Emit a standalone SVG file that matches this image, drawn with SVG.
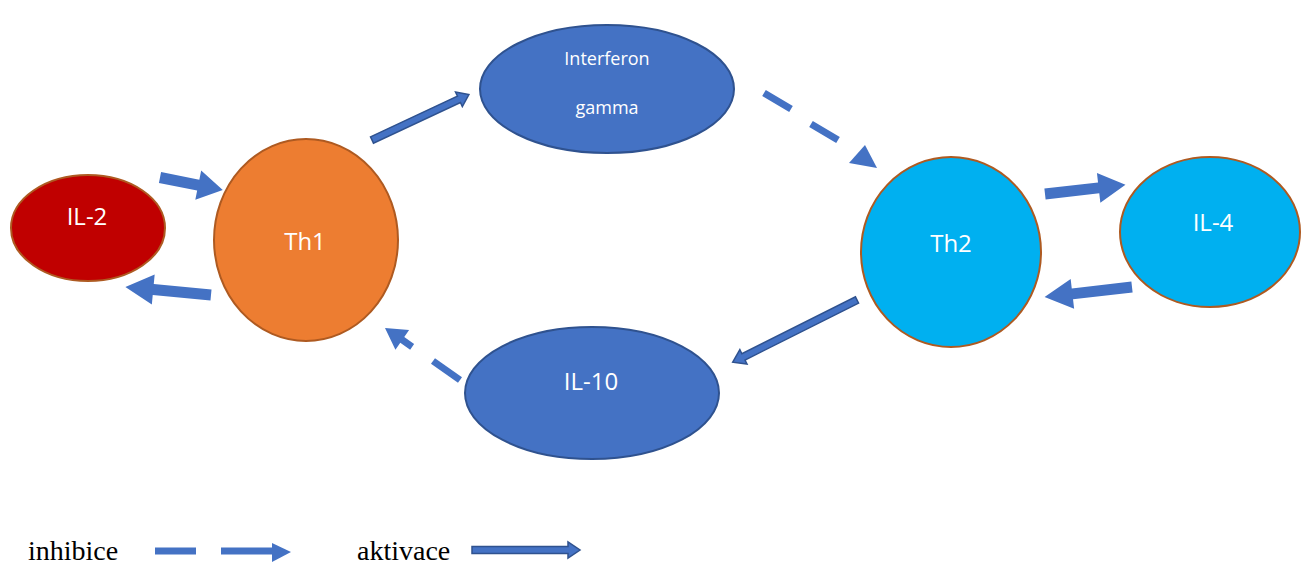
<svg xmlns="http://www.w3.org/2000/svg" width="1301" height="564" viewBox="0 0 1301 564">
<style>
.node-red{fill:#c00000;stroke:#ae5a21;stroke-width:2}
.node-orange{fill:#ed7d31;stroke:#ae5a21;stroke-width:2}
.node-cyan{fill:#00b0f0;stroke:#ae5a21;stroke-width:2}
.node-blue{fill:#4472c4;stroke:#2f528f;stroke-width:2}
.lbl{font-family:"Open Sans","Liberation Sans",sans-serif;fill:#ffffff;text-anchor:middle;dominant-baseline:central}
.big{font-size:24px}
.small{font-size:18px}
.block{fill:#4472c4}
.dbl{fill:#4472c4;stroke:#2f528f;stroke-width:1.5}
.dash{stroke:#4472c4;stroke-width:7;fill:none}
.legend{font-family:"Liberation Serif",serif;font-size:28px;fill:#000000}
</style>
<rect width="1301" height="564" fill="#ffffff"/>
<g id="connectors">
  <g transform="translate(160,177.5) rotate(11.3)"><polygon class="block" points="0,-5.5 39,-5.5 39,-15 64,0 39,15 39,5.5 0,5.5"/></g>
  <g transform="translate(211,295) rotate(185.4)"><polygon class="block" points="0,-5.5 58,-5.5 58,-15 86,0 58,15 58,5.5 0,5.5"/></g>
  <g transform="translate(1045,194) rotate(-6.5)"><polygon class="block" points="0,-5.5 54,-5.5 54,-15 81,0 54,15 54,5.5 0,5.5"/></g>
  <g transform="translate(1132,287) rotate(173.4)"><polygon class="block" points="0,-5.5 60,-5.5 60,-15 88,0 60,15 60,5.5 0,5.5"/></g>
  <g transform="translate(372,140) rotate(-25.1)"><polygon class="dbl" points="0,-3.5 96,-3.5 96,-8 107,0 96,8 96,3.5 0,3.5"/></g>
  <g transform="translate(857,300) rotate(153.4)"><polygon class="dbl" points="0,-3.5 127,-3.5 127,-8 139,0 127,8 127,3.5 0,3.5"/></g>
  <line class="dash" x1="764" y1="93" x2="791" y2="109"/>
  <line class="dash" x1="811" y1="124" x2="838" y2="140"/>
  <polygon class="block" points="877,168 849,163 865,145"/>
  <line class="dash" x1="460" y1="380" x2="433" y2="361"/>
  <g transform="translate(385,328) rotate(34.7)"><polygon class="block" points="0,0 21,-12 21,-3.5 33,-3.5 33,3.5 21,3.5 21,12"/></g>
  <line class="dash" x1="155" y1="551" x2="196" y2="551"/>
  <line class="dash" x1="221" y1="551" x2="273" y2="551"/>
  <polygon class="block" points="272,543 291,552 272,562"/>
  <g transform="translate(472,550)"><polygon class="dbl" points="0,-3.5 96,-3.5 96,-8 108,0 96,8 96,3.5 0,3.5"/></g>
</g>
<g id="node-il2">
  <ellipse class="node-red" cx="88" cy="228" rx="77" ry="53"/>
  <text class="lbl big" x="87" y="215">IL-2</text>
</g>
<g id="node-th1">
  <ellipse class="node-orange" cx="306" cy="240" rx="92" ry="101"/>
  <text class="lbl big" x="305" y="240">Th1</text>
</g>
<g id="node-ifn">
  <ellipse class="node-blue" cx="607" cy="89" rx="127" ry="64"/>
  <text class="lbl small" x="607" y="58">Interferon</text>
  <text class="lbl small" x="607" y="107">gamma</text>
</g>
<g id="node-th2">
  <ellipse class="node-cyan" cx="951" cy="252" rx="90" ry="95"/>
  <text class="lbl big" x="951" y="242">Th2</text>
</g>
<g id="node-il4">
  <ellipse class="node-cyan" cx="1210" cy="232" rx="90" ry="75"/>
  <text class="lbl big" x="1213" y="221">IL-4</text>
</g>
<g id="node-il10">
  <ellipse class="node-blue" cx="592" cy="393" rx="127" ry="66"/>
  <text class="lbl big" x="591" y="380">IL-10</text>
</g>
<g id="legend-text">
  <text class="legend" x="28" y="560">inhibice</text>
  <text class="legend" x="357" y="560">aktivace</text>
</g>
</svg>
